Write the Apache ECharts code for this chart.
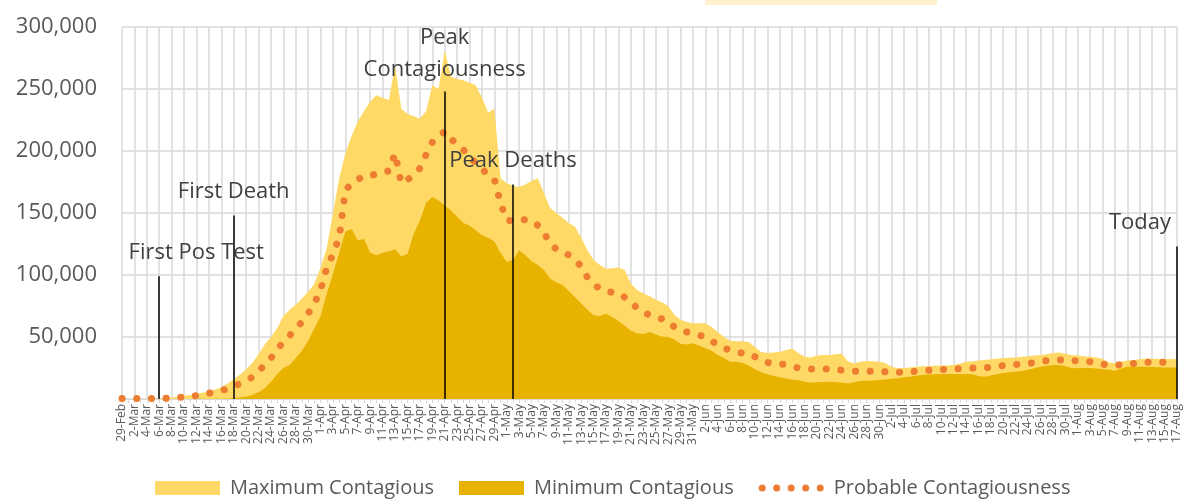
<!DOCTYPE html>
<html lang="en">
  <head>
    <meta charset="UTF-8" />
    <script src="https://cdn.jsdelivr.net/npm/echarts@6/dist/echarts.min.js"></script>
    <title>Contagious estimate</title>
    <style>
      html, body { margin: 0; padding: 0; background: #fff; }
      #chart { width: 1193px; height: 501px; }
    </style>
  </head>
  <body>
    <div id="chart"></div>
    <script>
      // day labels, 29-Feb .. 17-Aug
      const months = [["Feb", 29, 29], ["Mar", 1, 31], ["Apr", 1, 30], ["May", 1, 31], ["Jun", 1, 30], ["Jul", 1, 31], ["Aug", 1, 17]];
      const days = [];
      months.forEach(([m, from, to]) => {
        for (let d = from; d <= to; d++) days.push(d + "-" + m);
      });

      const maxContagious = [
        0, 0, 0, 100, 200, 300, 500, 800, 1200, 1800,
        2500, 3200, 4000, 5000, 6200, 7600, 9500, 12500, 16000, 19500,
        24000, 29000, 36000, 44000, 50000, 57000, 67000, 72000, 76000, 81000,
        86500, 93000, 106000, 122000, 150000, 178000, 198000, 212000, 224000, 232000,
        240000, 245000, 243000, 241000, 269000, 234000, 230000, 228000, 226000, 232000,
        253000, 250000, 281000, 260000, 258000, 257000, 255000, 253000, 243000, 231000,
        234000, 178000, 174000, 172000, 171000, 173000, 176000, 178000, 166000, 154000,
        150000, 146000, 142000, 139000, 130000, 120000, 112000, 108000, 105000, 105500,
        106000, 104000, 93000, 88000, 85000, 83000, 80000, 78000, 75000, 68000,
        64000, 62000, 61000, 61000, 61000, 58000, 54000, 50000, 47000, 46500,
        46500, 46000, 42000, 38000, 37000, 37500, 38000, 39500, 40500, 37000,
        34000, 33500, 35000, 35500, 35500, 36000, 36500, 30000, 28800, 30000,
        30600, 30500, 30000, 29000, 26000, 24700, 25000, 25500, 26000, 26500,
        26500, 27000, 27000, 27000, 27500, 28500, 30000, 30500, 31000, 31500,
        32000, 32500, 33000, 33300, 33500, 34000, 34500, 35000, 35500, 36000,
        37000, 37600, 36500, 35500, 35000, 34500, 34000, 33500, 32500, 29500,
        29000, 30000, 31000, 31500, 32300, 32500, 32500, 32300, 32200, 32200,
        32000
      ];

      const minContagious = [
        0, 0, 0, 0, 0, 0, 0, 0, 0, 0,
        0, 100, 100, 200, 200, 300, 300, 400, 700, 1200,
        2000, 3200, 5500, 8600, 14000, 20000, 25000, 27500, 33000, 39000,
        47000, 57000, 67000, 85000, 101000, 118000, 135000, 137000, 128000, 129000,
        118000, 116000, 118000, 119000, 121000, 115000, 117000, 133000, 144000, 158000,
        163000, 160000, 156000, 152000, 147000, 142000, 140000, 136000, 132000, 130000,
        127000, 118000, 110500, 112000, 120000, 116000, 111000, 108000, 104000, 97000,
        94000, 92000, 87000, 82000, 77000, 72000, 67500, 67000, 69000, 66000,
        63000, 59000, 55000, 53000, 52500, 54000, 52000, 50500, 50000, 48000,
        44500, 44000, 45000, 43000, 41000, 39000, 35500, 33000, 30000, 30000,
        29000, 27000, 24000, 21500, 20000, 18500, 17500, 16500, 15500, 15300,
        14000, 13200, 13500, 13800, 14000, 13800, 13200, 12600, 13500, 14500,
        14800, 15000, 15300, 15800, 16300, 16700, 17500, 18000, 18700, 19400,
        19700, 20000, 20200, 20200, 20200, 20200, 20200, 20000, 18500, 18000,
        19000, 20000, 21000, 21500, 22000, 22500, 23500, 24700, 26000, 26800,
        27400, 27400, 26500, 25000, 24700, 25000, 25000, 24500, 24000, 23500,
        22800, 24500, 26000, 26000, 26000, 26000, 25800, 25600, 25500, 25500,
        25500
      ];

      const probable = [
        500, 500, 500, 500, 500, 500, 500, 500, 800, 1200,
        1600, 2100, 2700, 3700, 4700, 5700, 6800, 8200, 10000, 12500,
        15000, 17500, 22000, 28000, 33000, 40000, 46000, 51000, 57000, 62000,
        69000, 77000, 88000, 106000, 117000, 130000, 168000, 174000, 177000, 180000,
        180500, 181000, 182500, 184000, 198000, 174000, 177000, 180000, 186000, 197000,
        207000, 211000, 216000, 210000, 205000, 201000, 196000, 190000, 186000, 180000,
        177000, 158000, 144000, 144000, 145000, 144500, 144000, 140000, 134000, 125000,
        121000, 119500, 116000, 112000, 107000, 98000, 92500, 89000, 87000, 86000,
        85500, 82000, 79000, 73000, 69500, 68000, 66500, 64500, 63000, 58000,
        55000, 54000, 53000, 51500, 50000, 47000, 43500, 41000, 39500, 38000,
        37000, 36800, 34000, 31000, 29500, 28200, 28000, 28000, 26500, 25000,
        24200, 24200, 24200, 24200, 24200, 23700, 23200, 22800, 22400, 22000,
        22200, 22500, 22400, 22000, 21500, 21500, 21500, 22000, 22400, 22800,
        23100, 23400, 23700, 24000, 24200, 24500, 24700, 24900, 25000, 25300,
        25600, 26300, 27000, 27700, 27800, 28000, 28700, 29300, 30000, 31000,
        32000, 31600, 31200, 31000, 30800, 30600, 30000, 29200, 28200, 27200,
        27200, 27700, 28000, 28700, 29300, 29500, 29800, 29700, 29500, 29300,
        29300
      ];

      // annotation lines
      const eventNames = ["First Pos Test", "First Death", "Peak\nContagiousness", "Peak Deaths", "Today"];
      const eventDays = ["6-Mar", "18-Mar", "21-Apr", "2-May", "17-Aug"];
      const eventTops = [99000, 148000, 248000, 173000, 123000];
      const eventShift = [37, 0, 0, 0, -37];

      const font = "'Open Sans', 'Noto Sans', sans-serif";
      const chart = echarts.init(document.getElementById("chart"));

      // five round dots for the legend of the dotted series
      let dotsIcon = "path://M0 0L0 0M65 14L65 14";
      [0, 14.5, 29, 43.5, 58].forEach((x) => {
        dotsIcon += "M" + x + " 7a3.5 3.5 0 1 0 7 0a3.5 3.5 0 1 0 -7 0Z";
      });

      const markData = eventNames.map((name, i) => {
        const sh = eventShift[i];
        return [
          { coord: [eventDays[i], 0] },
          {
            coord: [eventDays[i], eventTops[i]],
            label: {
              show: true,
              position: "end",
              formatter: name,
              distance: i === 2 ? 6 : 8,
              color: "#404040",
              fontSize: 22,
              fontFamily: font,
              lineHeight: 32,
              padding: sh > 0 ? [0, 0, 0, sh * 2] : sh < 0 ? [0, -sh * 2, 0, 0] : 0
            }
          }
        ];
      });

      chart.setOption({
        animation: false,
        graphic: [
          { type: "rect", left: 705, top: 0, shape: { width: 232, height: 5 }, style: { fill: "#FFF2CC" } }
        ],
        grid: { left: 122, right: 16, top: 27, bottom: 102, containLabel: false },
        legend: {
          top: 473,
          left: 150,
          itemWidth: 65,
          itemHeight: 14,
          itemGap: 25,
          textStyle: { color: "#595959", fontSize: 20, fontFamily: font, padding: [0, 0, 0, 5] },
          data: [
            { name: "Maximum Contagious", icon: "rect" },
            { name: "Minimum Contagious", icon: "rect" },
            { name: "Probable Contagiousness", icon: dotsIcon, itemStyle: { color: "#ED7D31", borderWidth: 0 } }
          ]
        },
        xAxis: {
          type: "category",
          boundaryGap: false,
          data: days,
          axisLine: { lineStyle: { color: "#D9D9D9", width: 1 } },
          axisTick: { show: true, interval: 0, length: 4, lineStyle: { color: "#D9D9D9" } },
          axisLabel: {
            interval: 1,
            rotate: 90,
            fontSize: 12,
            color: "#595959",
            fontFamily: font,
            margin: 5,
            showMinLabel: true,
            showMaxLabel: true
          },
          splitLine: { show: true, interval: 1, lineStyle: { color: "#D9D9D9", width: 1.5 } }
        },
        yAxis: {
          type: "value",
          min: 0,
          max: 300000,
          interval: 50000,
          axisLine: { show: false },
          axisTick: { show: false },
          axisLabel: {
            color: "#595959",
            fontSize: 22,
            fontFamily: font,
            margin: 25,
            formatter: (v) => (v === 0 ? "" : v.toLocaleString("en-US"))
          },
          splitLine: { lineStyle: { color: "#D9D9D9", width: 1.5 } }
        },
        series: [
          {
            name: "Maximum Contagious",
            type: "line",
            data: maxContagious,
            symbol: "none",
            itemStyle: { color: "#FFD966" },
            lineStyle: { width: 0 },
            areaStyle: { color: "#FFD966", opacity: 1 }
          },
          {
            name: "Minimum Contagious",
            type: "line",
            data: minContagious,
            symbol: "none",
            itemStyle: { color: "#E8B200" },
            lineStyle: { width: 0 },
            areaStyle: { color: "#E8B200", opacity: 1 }
          },
          {
            name: "Probable Contagiousness",
            type: "line",
            data: probable,
            symbol: "none",
            itemStyle: { color: "#ED7D31" },
            lineStyle: { color: "#ED7D31", width: 7, type: [0.1, 14.6], cap: "round" },
            markLine: {
              silent: true,
              symbol: "none",
              animation: false,
              lineStyle: { color: "#000", width: 1.5, type: "solid" },
              data: markData
            }
          }
        ]
      });
    </script>
  </body>
</html>
